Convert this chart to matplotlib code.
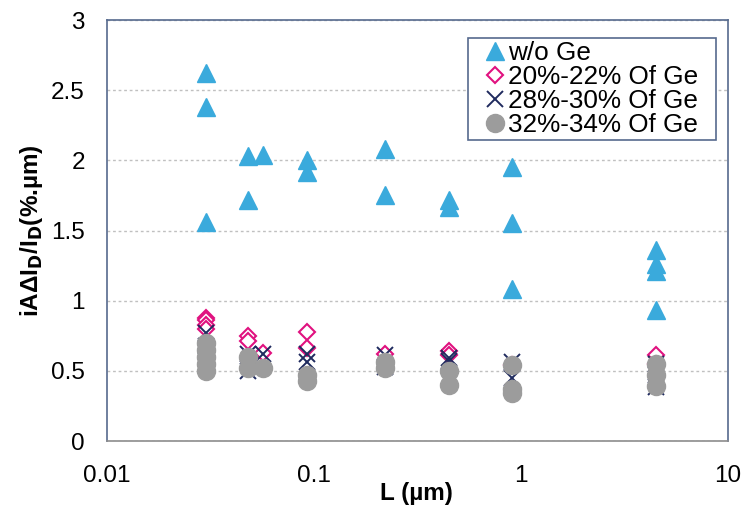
import matplotlib
matplotlib.use("Agg")
import matplotlib.pyplot as plt
from matplotlib.patches import Rectangle

plt.rcParams['font.family'] = ['Liberation Sans', 'DejaVu Sans']

# ---- data ----
L_wo = [0.03, 0.03, 0.03, 0.048, 0.048, 0.057, 0.092, 0.092, 0.22, 0.22,
        0.45, 0.45, 0.9, 0.9, 0.9, 4.5, 4.5, 4.5, 4.5]
v_wo = [2.62, 2.38, 1.56, 2.03, 1.72, 2.04, 2.00, 1.92, 2.08, 1.75,
        1.72, 1.67, 1.95, 1.55, 1.08, 1.36, 1.26, 1.21, 0.93]

L_20 = [0.03, 0.03, 0.03, 0.03, 0.048, 0.048, 0.057, 0.092, 0.092, 0.22,
        0.45, 0.45, 0.9, 4.5, 4.5]
v_20 = [0.88, 0.86, 0.83, 0.80, 0.75, 0.71, 0.63, 0.78, 0.66, 0.62,
        0.64, 0.61, 0.54, 0.61, 0.55]

L_28 = [0.03, 0.03, 0.03, 0.048, 0.048, 0.057, 0.092, 0.092, 0.22, 0.22,
        0.45, 0.45, 0.9, 0.9, 4.5, 4.5, 4.5]
v_28 = [0.77, 0.68, 0.60, 0.62, 0.50, 0.62, 0.62, 0.56, 0.61, 0.53,
        0.59, 0.57, 0.56, 0.45, 0.55, 0.47, 0.385]

L_32 = [0.03, 0.03, 0.03, 0.03, 0.03, 0.048, 0.048, 0.057, 0.092, 0.092,
        0.22, 0.22, 0.45, 0.45, 0.9, 0.9, 0.9, 4.5, 4.5, 4.5]
v_32 = [0.70, 0.65, 0.60, 0.55, 0.50, 0.60, 0.52, 0.52, 0.47, 0.43,
        0.56, 0.52, 0.50, 0.40, 0.54, 0.37, 0.34, 0.55, 0.47, 0.39]

labels = ["w/o Ge", "20%-22% Of Ge", "28%-30% Of Ge", "32%-34% Of Ge"]
x_ticks = [0.01, 0.1, 1, 10]
x_ticklabels = ["0.01", "0.1", "1", "10"]
y_ticks = [0, 0.5, 1, 1.5, 2, 2.5, 3]
y_ticklabels = ["0", "0.5", "1", "1.5", "2", "2.5", "3"]

fig = plt.figure(figsize=(7.45, 5.08), dpi=100)
ax = fig.add_axes([107/745, 1-441/508, 621/745, 421/508])

ax.plot(L_wo, v_wo, linestyle='none', marker='^', markersize=12.5,
        color='#3AAADC', markeredgecolor='#3AAADC', label=labels[0])
ax.plot(L_20, v_20, linestyle='none', marker='D', markersize=8,
        markerfacecolor='white', markeredgecolor='#E0117F', markeredgewidth=1.5,
        label=labels[1])
ax.plot(L_28, v_28, linestyle='none', marker='x', markersize=11,
        color='#1F2A5E', markeredgewidth=1.4, label=labels[2])
ax.plot(L_32, v_32, linestyle='none', marker='o', markersize=13,
        color='#9C9C9C', markeredgecolor='#9C9C9C', label=labels[3])

ax.set_xscale('log')
ax.set_xlim(0.01, 10)
ax.set_ylim(0, 3)
ax.set_xticks(x_ticks)
ax.set_xticklabels(x_ticklabels)
ax.set_yticks(y_ticks)
ax.set_yticklabels(y_ticklabels)
ax.minorticks_off()
ax.tick_params(axis='both', length=0, labelsize=17.5, pad=16)
ax.tick_params(axis='x', pad=17)

ax.yaxis.grid(True, color='#C0C0C0', linestyle=(0, (2, 2)), linewidth=1)
ax.set_axisbelow(True)

for side in ['left', 'top', 'right']:
    ax.spines[side].set_color('#566A8E')
    ax.spines[side].set_linewidth(1.2)
ax.spines['bottom'].set_color('#8C8C8C')
ax.spines['bottom'].set_linewidth(1.2)

ax.set_xlabel("L (µm)", fontsize=17.5, fontweight='bold')
ax.set_ylabel("iAΔI$_\\mathbf{D}$/I$_\\mathbf{D}$(%.µm)", fontsize=17.5, fontweight='bold')
ax.xaxis.set_label_coords(0.499, -0.098)
ax.yaxis.set_label_coords(-0.100, 0.5)

# legend frame (box in axes coordinates)
fx0, fx1 = (468 - 107) / 621, (716 - 107) / 621
fy0, fy1 = (441 - 140) / 421, (441 - 38) / 421
ax.add_patch(Rectangle((fx0, fy0), fx1 - fx0, fy1 - fy0, transform=ax.transAxes,
                       facecolor='white', edgecolor='#566A8E', linewidth=1.2,
                       zorder=6, clip_on=False))

leg = ax.legend(loc='upper left', bbox_to_anchor=((482 - 107) / 621, (441 - 41) / 421),
                borderaxespad=0, borderpad=0, fontsize=18.8, handlelength=1.0,
                handletextpad=0.0, labelspacing=0.0, frameon=False,
                markerscale=1.0, numpoints=1)
leg.set_zorder(7)

fig.savefig("out.png", dpi=100)
